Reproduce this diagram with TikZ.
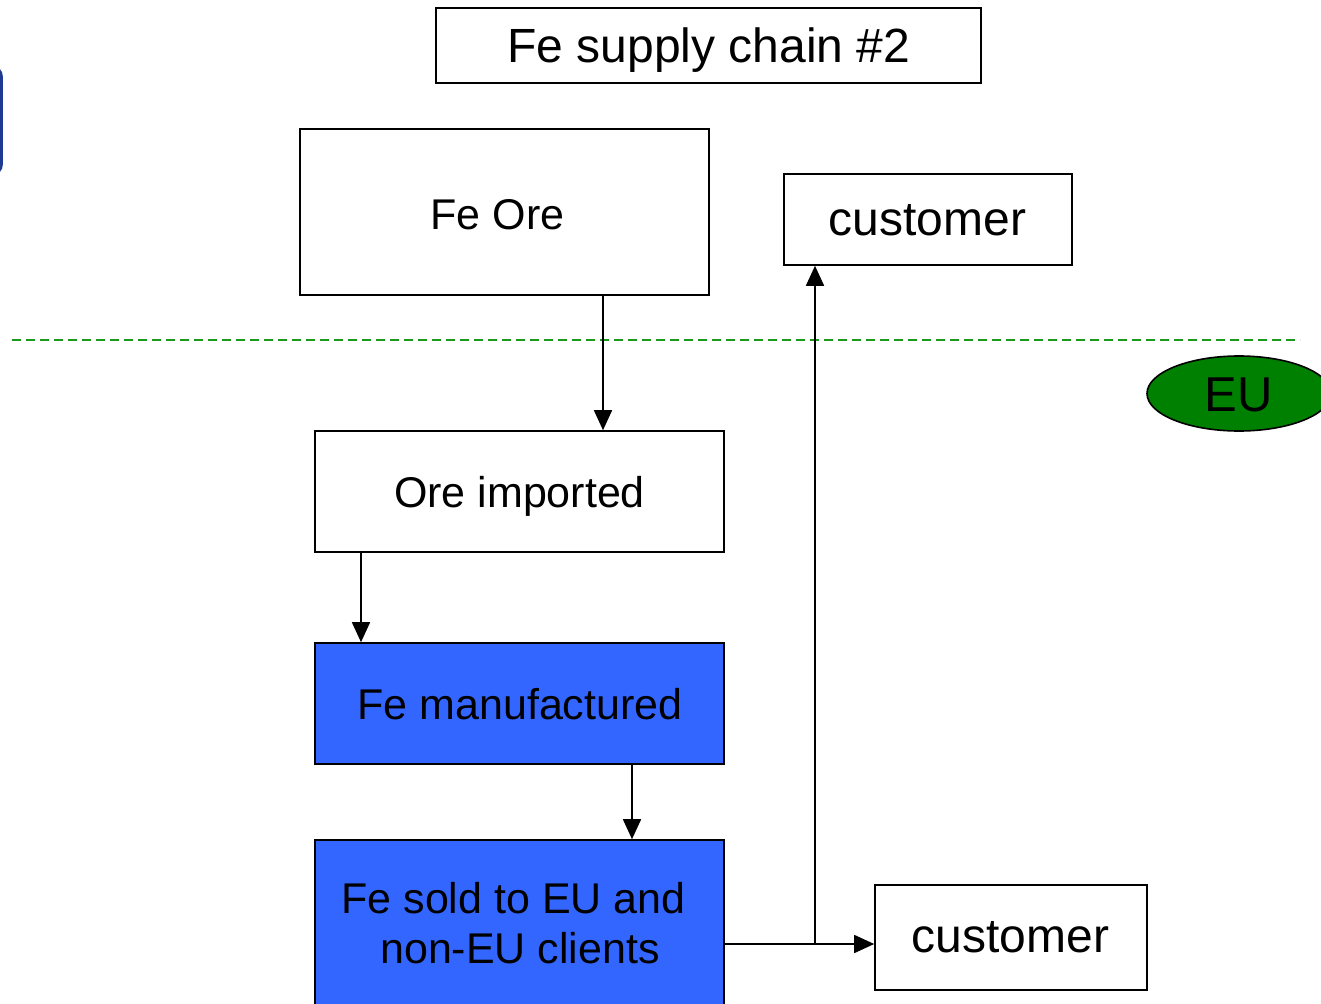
\documentclass[tikz,border=0pt]{standalone}
\usepackage{fontspec}
\setmainfont{Liberation Sans}
\usetikzlibrary{arrows.meta,shapes.geometric}
\definecolor{fefill}{HTML}{3366FF}
\definecolor{eugreen}{HTML}{008000}
\definecolor{dashgreen}{HTML}{1A9A1A}
\definecolor{edgeblue}{HTML}{1F3A93}
\begin{document}
\begin{tikzpicture}[x=1pt,y=-1pt,
  box/.style={draw=black,line width=1.6pt,inner sep=0pt},
  txt/.style={anchor=base,inner sep=0pt,font=\fontsize{43}{52}\selectfont},
  big/.style={txt,font=\fontsize{48}{56}\selectfont},
  conn/.style={line width=1.6pt,-{Triangle[length=20pt,width=18pt]}}]
\useasboundingbox (0,0) rectangle (1321,1003);
\clip (0,0) rectangle (1321,1003);
% partial blue shape at left edge
\draw[edgeblue,line width=3.5pt,rounded corners=8pt] (-120,68) rectangle (1,173);
% EU boundary
\draw[dashgreen,line width=1.6pt,dash pattern=on 9pt off 5pt] (12,340) -- (1300,340);
% boxes
\node[box,minimum width=545pt,minimum height=75pt] (title) at (708.5,45.5) {};
\node[box,minimum width=409pt,minimum height=166pt] (ore) at (504.5,212) {};
\node[box,minimum width=288pt,minimum height=91pt] (cust1) at (928,219.5) {};
\node[box,minimum width=409pt,minimum height=121pt] (imp) at (519.5,491.5) {};
\node[box,fill=fefill,minimum width=409pt,minimum height=121pt] (man) at (519.5,703.5) {};
\node[box,fill=fefill,minimum width=409pt,minimum height=190pt] (sold) at (519.5,935) {};
\node[box,minimum width=272pt,minimum height=105pt] (cust2) at (1011,937.5) {};
\node[ellipse,box,fill=eugreen,minimum width=184pt,minimum height=75pt] (eu) at (1239,393.5) {};
% texts
\node[big] (titletxt) at (709,63) {Fe supply chain \#2};
\node[txt] (oretxt) at (497.5,229) {Fe Ore};
\node[big] (cust1txt) at (927.5,235) {customer};
\node[txt] (imptxt) at (519.5,507) {Ore imported};
\node[txt] (mantxt) at (520,719) {Fe manufactured};
\node[txt] (soldtxta) at (513.5,913) {Fe sold to EU and};
\node[txt] (soldtxtb) at (520,963) {non-EU clients};
\node[big] (cust2txt) at (1010.5,952) {customer};
\node[txt,font=\fontsize{49}{56}\selectfont] (eutxt) at (1238.5,411) {EU};
% connectors
\draw[conn] (ore.south -| 603,0) -- (imp.north -| 603,0);
\draw[conn] (imp.south -| 361,0) -- (man.north -| 361,0);
\draw[conn] (man.south -| 632,0) -- (sold.north -| 632,0);
\coordinate (split) at (815,944);
\draw[conn] (sold.east |- split) -- (cust2.west |- split);
\draw[conn] (split) -- (cust1.south -| split);
\end{tikzpicture}
\end{document}
